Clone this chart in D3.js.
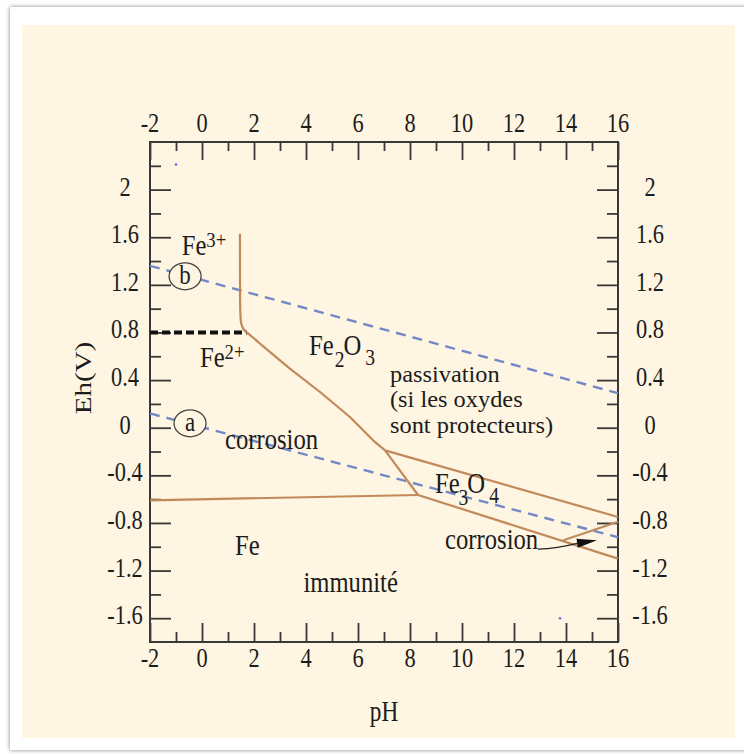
<!DOCTYPE html>
<html>
<head>
<meta charset="utf-8">
<script src="https://cdn.jsdelivr.net/npm/d3@7"></script>
<style>
  html, body { margin: 0; padding: 0; background: #ffffff; }
  svg { display: block; }
  text { font-family: "Liberation Serif", "Times New Roman", serif; fill: #1c1c1c; }
</style>
</head>
<body>
<svg id="chart" width="744" height="754"></svg>
<script>
// ---------------- data (pH, Eh in volts) ----------------
const pHMajorTicks = [-2, 0, 2, 4, 6, 8, 10, 12, 14, 16];
const pHMinorTicks = [-1, 1, 3, 5, 7, 9, 11, 13, 15];
const ehMajorTicks = [2, 1.6, 1.2, 0.8, 0.4, 0, -0.4, -0.8, -1.2, -1.6];
const ehMajorLabels = ["2", "1.6", "1.2", "0.8", "0.4", "0", "-0.4", "-0.8", "-1.2", "-1.6"];
const ehMinorTicks = [2.2, 1.8, 1.4, 1.0, 0.6, 0.2, -0.2, -0.6, -1.0, -1.4];

// Fe3+ | Fe2+ | Fe2O3 | Fe3O4 boundary (upper left to junction)
const boundaryFe2Oxide = [
  [1.46, 1.63], [1.46, 0.95], [1.50, 0.87], [1.60, 0.82], [1.73, 0.80],
  [2.23, 0.707], [3.38, 0.497], [4.54, 0.30], [5.69, 0.09], [6.58, -0.106],
  [7.04, -0.19], [8.31, -0.565]
];
// Fe | Fe2+ boundary
const boundaryFeFe2 = [[-2, -0.61], [8.31, -0.565]];
// Fe2O3 | Fe3O4 boundary
const boundaryFe2O3Fe3O4 = [[7.04, -0.19], [16, -0.75]];
// Fe | Fe3O4 boundary
const boundaryFeFe3O4 = [[8.31, -0.565], [16, -1.10]];
// HFeO2- corrosion wedge
const boundaryHFeO2 = [[13.9, -0.945], [16, -0.79]];
// Fe3+ / Fe2+ (dashed black)
const boundaryFe3Fe2 = [[-2, 0.80], [1.73, 0.80]];
// water lines (blue dashed)
const waterLineB = [[-2, 1.36], [16, 0.29]];
const waterLineA = [[-2, 0.12], [16, -0.92]];
// stray dots in the figure
const strayDots = [[-1.0, 2.21], [13.77, -1.60]];
// corrosion arrow
const arrowFrom = [12.92, -1.02];
const arrowTo = [15.19, -0.946];
// circled line labels
const circleLabels = [
  { t: "b", pH: -0.65, E: 1.272 },
  { t: "a", pH: -0.46, E: 0.037 }
];
// region labels (start position, baseline, font size, horizontal scale)
const regionLabels = [
  { lines: ["passivation", "(si les oxydes", "sont protecteurs)"], pH: 7.23, E: 0.384, size: 23, sx: 1.06 },
  { lines: ["corrosion"], pH: 0.885, E: -0.175, size: 29, sx: 0.85 },
  { lines: ["corrosion"], pH: 9.35, E: -1.015, size: 29, sx: 0.85 },
  { lines: ["Fe"], pH: 1.27, E: -1.072, size: 29, sx: 0.85 },
  { lines: ["immunité"], pH: 3.9, E: -1.38, size: 29, sx: 0.85 }
];
// species labels with sub/superscripts: [text, dx, dy, size]
const speciesLabels = [
  { pH: -0.78, E: 1.448, parts: [["Fe", 0, 0, 29], ["3+", 0, -8, 22]] },
  { pH: -0.08, E: 0.510, parts: [["Fe", 0, 0, 29], ["2+", 0, -8, 22]] },
  { pH: 4.12, E: 0.608, parts: [["Fe", 0, 0, 29], ["2", 1, 12, 23], ["O", -1, -12, 29], ["3", 4, 10, 23]] },
  { pH: 8.96, E: -0.551, parts: [["Fe", 0, 0, 29], ["3", -1, 12, 23], ["O", -1, -12, 29], ["4", 4, 10, 23]] }
];

// ---------------- drawing ----------------
const svg = d3.select("#chart");
const plot = { left: 150, right: 618, top: 142, bottom: 642 };
const x = d3.scaleLinear().domain([-2, 16]).range([plot.left, plot.right]);
const y = d3.scaleLinear().domain([-1.8, 2.4]).range([plot.bottom, plot.top]);

const defs = svg.append("defs");
const f = defs.append("filter").attr("id", "shadow").attr("x", "-5%").attr("y", "-5%").attr("width", "110%").attr("height", "110%");
f.append("feGaussianBlur").attr("in", "SourceAlpha").attr("stdDeviation", 2.2).attr("result", "b");
f.append("feComponentTransfer").attr("in", "b").attr("result", "s")
  .append("feFuncA").attr("type", "linear").attr("slope", 0.5);
const fm = f.append("feMerge");
fm.append("feMergeNode").attr("in", "s");
fm.append("feMergeNode").attr("in", "SourceGraphic");

// card + cream panel
svg.append("rect").attr("x", 10).attr("y", 7).attr("width", 760).attr("height", 743)
  .attr("fill", "#ffffff").attr("filter", "url(#shadow)");
svg.append("rect").attr("x", 22).attr("y", 25).attr("width", 713).attr("height", 713)
  .attr("fill", "#fef5e2");

const TICK = "#383838";
const BROWN = "#c2895a";
const BLUE = "#7389c6";

// axes ticks (inside)
function ticksAxis(axisGen, tx, ty, vals, size) {
  const g = svg.append("g").attr("transform", `translate(${tx},${ty})`)
    .call(axisGen.tickValues(vals).tickSize(size).tickSizeOuter(0).tickFormat(""));
  g.select(".domain").remove();
  g.selectAll("line").attr("stroke", TICK).attr("stroke-width", 1.8);
  return g;
}
ticksAxis(d3.axisBottom(x), 0, plot.top, pHMajorTicks, 18);
ticksAxis(d3.axisBottom(x), 0, plot.top, pHMinorTicks, 9);
ticksAxis(d3.axisTop(x), 0, plot.bottom, pHMajorTicks, 19);
ticksAxis(d3.axisTop(x), 0, plot.bottom, pHMinorTicks, 10);
ticksAxis(d3.axisRight(y), plot.left, 0, ehMajorTicks, 21);
ticksAxis(d3.axisRight(y), plot.left, 0, ehMinorTicks, 11);
ticksAxis(d3.axisLeft(y), plot.right, 0, ehMajorTicks, 21);
ticksAxis(d3.axisLeft(y), plot.right, 0, ehMinorTicks, 11);

svg.append("rect").attr("x", plot.left).attr("y", plot.top)
  .attr("width", plot.right - plot.left).attr("height", plot.bottom - plot.top)
  .attr("fill", "none").attr("stroke", TICK).attr("stroke-width", 2);

// condensed text helper
function ctext(px, py, str, size, anchor, sx) {
  return svg.append("text")
    .attr("transform", `translate(${px},${py}) scale(${sx},1)`)
    .attr("text-anchor", anchor)
    .style("font-size", size + "px")
    .text(str);
}

// tick labels
const TSX = 0.8, TFS = 28;
pHMajorTicks.forEach(v => {
  ctext(x(v), 132, String(v), TFS, "middle", TSX);
  ctext(x(v), 667, String(v), TFS, "middle", TSX);
});
ehMajorTicks.forEach((v, i) => {
  ctext(125, y(v) + 6, ehMajorLabels[i], TFS, "middle", TSX);
  ctext(650, y(v) + 6, ehMajorLabels[i], TFS, "middle", TSX);
});

// axis titles
ctext(384, 721, "pH", 29, "middle", 0.8);
svg.append("text")
  .attr("transform", `translate(91,378) scale(0.8,1) rotate(-90)`)
  .attr("text-anchor", "middle")
  .style("font-size", "29px")
  .text("Eh(V)");

// lines
const line = d3.line().x(d => x(d[0])).y(d => y(d[1]));
function drawLine(data, color, width, dash, gen) {
  svg.append("path").datum(data).attr("d", (gen || line))
    .attr("fill", "none").attr("stroke", color).attr("stroke-width", width)
    .attr("stroke-dasharray", dash || null).attr("stroke-linejoin", "round");
}

drawLine(waterLineB, BLUE, 2.4, "10,7");
drawLine(waterLineA, BLUE, 2.4, "10,7");
drawLine(boundaryFe3Fe2, "#111", 3.8, "8,4");
drawLine(boundaryFe2Oxide.slice(0, 6), BROWN, 2.2, null, d3.line().x(d => x(d[0])).y(d => y(d[1])).curve(d3.curveBasis));
drawLine(boundaryFe2Oxide.slice(5), BROWN, 2.2);
drawLine(boundaryFeFe2, BROWN, 2.2);
drawLine(boundaryFe2O3Fe3O4, BROWN, 2.2);
drawLine(boundaryFeFe3O4, BROWN, 2.2);
drawLine(boundaryHFeO2, BROWN, 2.2);

// stray dots
svg.selectAll("circle.dot").data(strayDots).enter().append("circle")
  .attr("class", "dot").attr("cx", d => x(d[0])).attr("cy", d => y(d[1])).attr("r", 1.3)
  .attr("fill", "#6a6ae0");

// circled labels
circleLabels.forEach(c => {
  svg.append("ellipse").attr("cx", x(c.pH)).attr("cy", y(c.E)).attr("rx", 16).attr("ry", 13.5)
    .attr("fill", "#fef5e2").attr("stroke", "#444").attr("stroke-width", 1.3);
  ctext(x(c.pH), y(c.E) + 7.5, c.t, 27, "middle", 0.85);
});

// region labels (multi-line as one text)
regionLabels.forEach(r => {
  const t = svg.append("text")
    .attr("transform", `translate(${x(r.pH)},${y(r.E)}) scale(${r.sx},1)`)
    .attr("text-anchor", "start")
    .style("font-size", r.size + "px");
  r.lines.forEach((ln, i) => {
    t.append("tspan").attr("x", 0).attr("y", i * 25.5).text(ln);
  });
});

// species labels
speciesLabels.forEach(s => {
  const t = svg.append("text")
    .attr("transform", `translate(${x(s.pH)},${y(s.E)}) scale(0.85,1)`)
    .attr("text-anchor", "start");
  s.parts.forEach(p => {
    t.append("tspan").attr("dx", p[1] / 0.85).attr("dy", p[2]).style("font-size", p[3] + "px").text(p[0]);
  });
});

// arrow
const ax0 = x(arrowFrom[0]), ay0 = y(arrowFrom[1]), ax1 = x(arrowTo[0]), ay1 = y(arrowTo[1]);
const ang = Math.atan2(ay1 - ay0, ax1 - ax0);
const hl = 20, hw = 4.5;
const bx = ax1 - hl * Math.cos(ang), by = ay1 - hl * Math.sin(ang);
svg.append("path")
  .attr("d", `M${ax0},${ay0} Q${(ax0 + bx) / 2},${(ay0 + by) / 2 + 2} ${bx},${by}`)
  .attr("fill", "none").attr("stroke", "#222").attr("stroke-width", 1.3);
svg.append("path")
  .attr("d", `M${ax1},${ay1} L${bx - hw * Math.sin(ang)},${by + hw * Math.cos(ang)} L${bx + hw * Math.sin(ang)},${by - hw * Math.cos(ang)} Z`)
  .attr("fill", "#111");
</script>
</body>
</html>
